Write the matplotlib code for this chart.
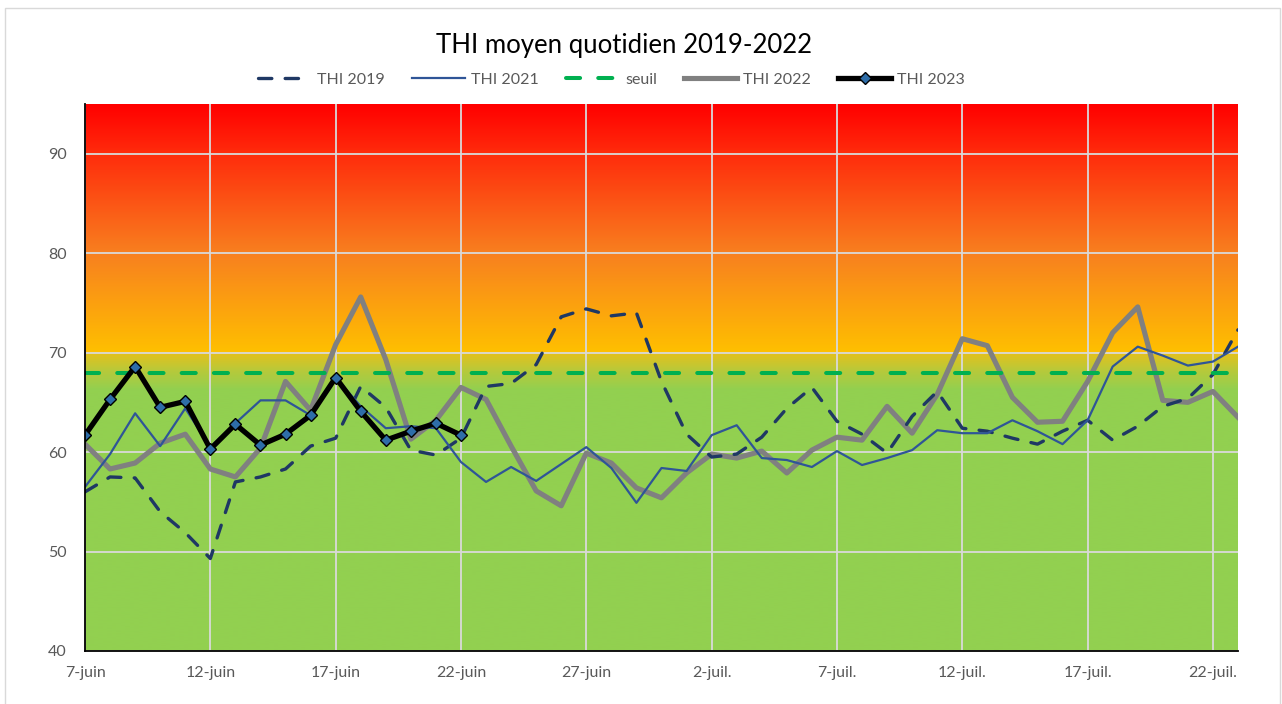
import matplotlib.pyplot as plt
import numpy as np
from matplotlib.colors import LinearSegmentedColormap
from matplotlib.patches import Rectangle

plt.rcParams['font.family'] = ['Lato', 'DejaVu Sans']

# daily values, 7 june -> 23 july
thi_2019 = [56.0, 57.5, 57.4, 54.0, 51.9, 49.3, 57.0, 57.5, 58.3, 60.6,
            61.4, 66.6, 64.5, 60.2, 59.7, 61.4, 66.6, 66.9, 68.8, 73.6,
            74.4, 73.7, 74.0, 67.1, 61.8, 59.5, 59.8, 61.5, 64.4, 66.5,
            63.1, 61.8, 59.9, 63.6, 66.1, 62.4, 62.1, 61.4, 60.8, 62.1,
            63.2, 61.2, 62.6, 64.6, 65.4, 67.8, 72.3]
thi_2021 = [56.5, 59.8, 63.9, 60.6, 64.4, 60.5, 62.9, 65.2, 65.2, 63.7,
            67.5, 64.6, 62.4, 62.6, 62.4, 59.0, 57.0, 58.5, 57.1, 58.8,
            60.5, 58.4, 54.9, 58.4, 58.1, 61.7, 62.7, 59.4, 59.2, 58.5,
            60.1, 58.7, 59.4, 60.2, 62.2, 61.9, 61.9, 63.2, 62.1, 60.8,
            63.2, 68.6, 70.6, 69.7, 68.7, 69.1, 70.6]
thi_2022 = [60.8, 58.3, 58.9, 60.9, 61.8, 58.3, 57.5, 60.4, 67.1, 64.2,
            70.8, 75.6, 69.3, 61.3, 63.2, 66.5, 65.3, 60.6, 56.1, 54.6,
            59.9, 58.9, 56.4, 55.4, 57.9, 59.8, 59.4, 60.1, 57.9, 60.2,
            61.5, 61.2, 64.6, 61.9, 65.8, 71.4, 70.7, 65.5, 63.0, 63.1,
            67.1, 72.0, 74.6, 65.2, 65.0, 66.1, 63.5]
thi_2023 = [61.7, 65.3, 68.6, 64.5, 65.1, 60.3, 62.8, 60.7, 61.8, 63.7,
            67.5, 64.1, 61.2, 62.1, 62.9, 61.7]
seuil = 68

tick_labels = ['7-juin', '12-juin', '17-juin', '22-juin', '27-juin',
               '2-juil.', '7-juil.', '12-juil.', '17-juil.', '22-juil.']

days = np.arange(len(thi_2019))
gray_txt = '#595959'

fig = plt.figure(figsize=(12.82, 7.04), dpi=100)
ax = fig.add_axes([85 / 1282, 1 - 651 / 704, (1238 - 85) / 1282, (651 - 104) / 704])

# background: green below the threshold, yellow -> orange -> red above
ymin, ymax = 40, 95
stops = [(40, '#92D050'), (66.3, '#92D050'), (68.2, '#B8C93A'), (69.9, '#E2C11E'),
         (70.0, '#FFC000'), (80, '#F8801F'), (90, '#FF2C0C'), (95, '#FF0000')]
cmap = LinearSegmentedColormap.from_list(
    'thi', [((v - ymin) / (ymax - ymin), c) for v, c in stops], N=1024)
grad = np.linspace(ymin, ymax, 1000).reshape(-1, 1)
ax.imshow(grad, cmap=cmap, vmin=ymin, vmax=ymax, origin='lower', aspect='auto',
          extent=[0, len(days) - 1, ymin, ymax], zorder=0, interpolation='bilinear')

ax.plot(days, thi_2022, color='#808080', lw=3.7, label='THI 2022', zorder=3)
ax.plot(days, thi_2019, color='#1F3864', lw=2.4, ls=(0, (4, 4)),
        dash_capstyle='round', label='THI 2019', zorder=4)
ax.plot(days, thi_2021, color='#2F5597', lw=1.6, label='THI 2021', zorder=4)
ax.plot(days, [seuil] * len(days), color='#00B050', lw=2.9, ls=(0, (3.5, 4.5)),
        dash_capstyle='round', label='seuil', zorder=5)
ax.plot(days[:len(thi_2023)], thi_2023, color='black', lw=3.8, marker='D',
        ms=6.5, mfc='#2E6DA8', mec='black', mew=1, label='THI 2023', zorder=6)

ax.set_xlim(0, len(days) - 1)
ax.set_ylim(ymin, ymax)
ax.set_xticks(days[::5])
ax.set_xticklabels(tick_labels)
ax.set_yticks([40, 50, 60, 70, 80, 90])
ax.grid(True, color='#D9D9D9', lw=1.3)
ax.set_axisbelow(True)
for gl in ax.get_xgridlines() + ax.get_ygridlines():
    gl.set_zorder(1)
ax.tick_params(length=0, labelsize=11.5, labelcolor=gray_txt)
ax.tick_params(axis='x', pad=11)
ax.tick_params(axis='y', pad=13)
for s in ['top', 'right']:
    ax.spines[s].set_visible(False)
for s in ['left', 'bottom']:
    ax.spines[s].set_color('black')
    ax.spines[s].set_linewidth(1.3)
    ax.spines[s].set_zorder(7)

fig.text(0.487, 1 - 45 / 704, 'THI moyen quotidien 2019-2022', ha='center', va='center',
         fontsize=18.5, color='black')

h, l = ax.get_legend_handles_labels()
order = [l.index(n) for n in ['THI 2019', 'THI 2021', 'seuil', 'THI 2022', 'THI 2023']]
fig.legend([h[i] for i in order], [l[i] for i in order], loc='center',
           bbox_to_anchor=(0.477, 1 - 80 / 704), ncol=5, frameon=False,
           fontsize=11.5, labelcolor=gray_txt, handlelength=3.3, handletextpad=0.4,
           columnspacing=1.7, numpoints=1)

fig.patches.append(Rectangle((5 / 1282, -0.01), (1280 - 5) / 1282, 1.01 - 8 / 704,
                             transform=fig.transFigure, fill=False,
                             edgecolor='#D9D9D9', lw=1))

fig.savefig('out.png', dpi=100)
